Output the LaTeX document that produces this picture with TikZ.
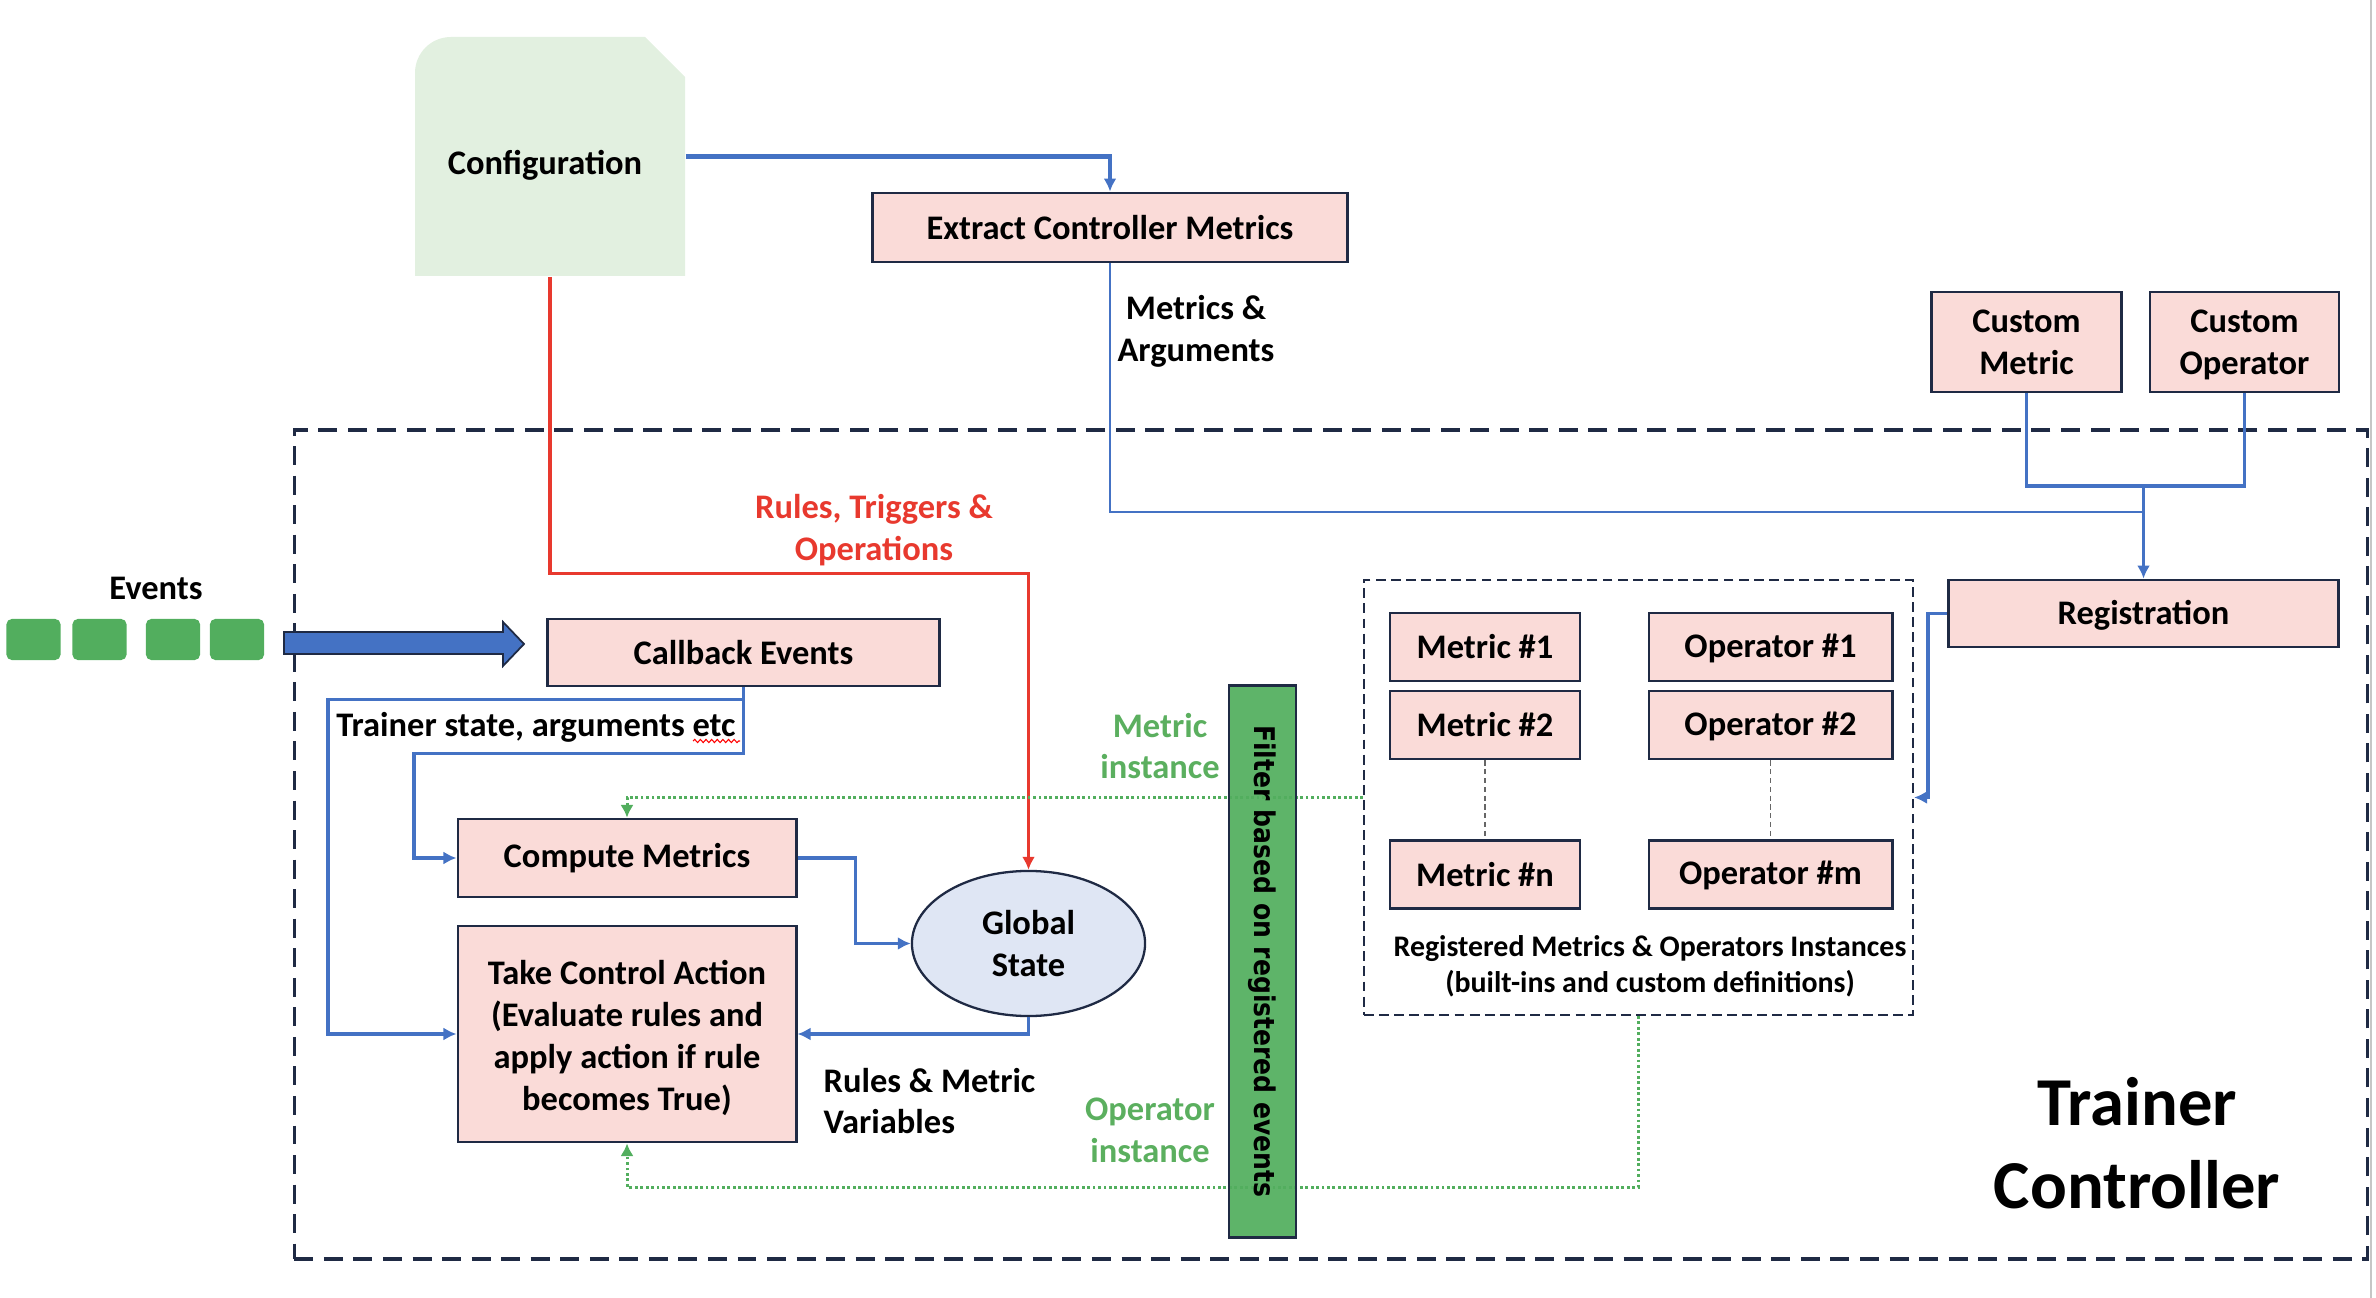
\documentclass[tikz,border=0pt]{standalone}
\usepackage{fontspec}
\setmainfont{Carlito}
\newfontfamily\barfont{DejaVu Sans}[FakeStretch=0.88]
\usetikzlibrary{arrows.meta,decorations.pathmorphing,shapes.geometric}
\definecolor{navy}{HTML}{1F2A44}
\definecolor{pinkf}{HTML}{FADBD8}
\definecolor{bluel}{HTML}{4472C4}
\definecolor{redl}{HTML}{E8392E}
\definecolor{greenl}{HTML}{52AE5E}
\definecolor{greent}{HTML}{5BAF5F}
\definecolor{cfgfill}{HTML}{E2F0E0}
\definecolor{gsfill}{HTML}{DFE6F4}
\begin{document}
\begin{tikzpicture}[x=0.01cm,y=-0.01cm,
 box/.style={draw=navy,fill=pinkf,line width=0.8pt,inner sep=0pt,align=center,font=\bfseries\fontsize{9.8}{11.9}\selectfont},
 lbl/.style={inner sep=0pt,align=center,font=\bfseries\fontsize{9.8}{11.9}\selectfont},
 bl/.style={draw=bluel,line width=1pt},
 arr/.style={-{Latex[length=3.7pt,width=3.7pt]}},
 garr/.style={-{Latex[length=3.6pt,width=3.8pt]}},
 gdot/.style={draw=greenl,line width=0.85pt,dash pattern=on 0.8pt off 0.75pt},
 evsq/.style={fill=greenl,rounded corners=1.5pt,minimum width=0.54cm,minimum height=0.41cm,inner sep=0pt},
 smallbox/.style={box,minimum height=0.68cm},
]
\useasboundingbox (0,0) rectangle (2376,1298);
\draw[gray!45,line width=0.4pt] (2371,0) -- (2371,1298);

% outer dashed Trainer Controller box
\node[draw=navy,line width=1pt,dash pattern=on 5.4pt off 3pt,minimum width=20.72cm,minimum height=8.29cm,inner sep=0pt] (tc) at (1331,844.5) {};
\node[lbl,font=\bfseries\fontsize{19.5}{23.7}\selectfont] (tctxt) at (2137,1143) {Trainer\\Controller};

% configuration
\fill[cfgfill] (415,276) -- (415,73) .. controls (415,53) and (431,37) .. (451,37) -- (645,37) -- (685,77) -- (685,276) -- cycle;
\node[minimum width=2.7cm,minimum height=2.39cm,inner sep=0pt] (config) at (550,156.5) {};
\node[lbl] (cfgtxt) at (545,165) {Configuration};

% top boxes
\node[box,minimum width=4.74cm,minimum height=0.69cm] (extract) at (1110,227.5) {Extract Controller Metrics};
\node[box,minimum width=1.90cm,minimum height=1.00cm] (custmet) at (2026.5,342) {Custom\\Metric};
\node[box,minimum width=1.89cm,minimum height=1.00cm] (custop) at (2244.5,342) {};
\node[lbl] (custoptxt) at ([yshift=-0.8pt]custop.center) {Custom\\Operator};
\node[box,minimum width=3.90cm,minimum height=0.67cm,text height=7.6pt,text depth=1.4pt] (reg) at (2143.5,613.5) {Registration};

\node[lbl] (mtxt) at (1196,331) {Metrics \&\\Arguments};
\node[lbl,text=redl] (rtxt) at (874,530) {Rules, Triggers \&\\Operations};

% events
\node[lbl] (evtxt) at (156,588) {Events};
\node[evsq] (e1) at (33.5,639.5) {};
\node[evsq] (e2) at (99.5,639.5) {};
\node[evsq] (e3) at (173,639.5) {};
\node[evsq] (e4) at (237,639.5) {};
\draw[fill=bluel,draw=navy,line width=0.5pt] (284,632) -- (503,632) -- (503,622) -- (524,644) -- (503,666) -- (503,654) -- (284,654) -- cycle;

% left boxes
\node[box,minimum width=3.91cm,minimum height=0.67cm] (callback) at (743.5,652.5) {Callback Events};
\node[box,minimum width=3.38cm,minimum height=0.78cm] (compute) at (627,858) {Compute Metrics};
\node[box,minimum width=3.38cm,minimum height=2.16cm] (action) at (627,1034) {};
\node[lbl] (actiontxt) at ([yshift=-1.2pt]action.center) {Take Control Action\\(Evaluate rules and\\apply action if rule\\becomes True)};
\node[draw=navy,fill=gsfill,line width=0.65pt,ellipse,minimum width=2.33cm,minimum height=1.45cm,inner sep=0pt,align=center,font=\bfseries\fontsize{9.8}{11.9}\selectfont] (global) at (1028.5,943.5) {Global\\State};

\node[lbl] (tstxt) at (536,727) {Trainer state, arguments etc};
\draw[red,line width=0.3pt,decorate,decoration={snake,amplitude=0.45pt,segment length=1.6pt}] (693,741) -- (740,741);
\node[lbl,align=left,anchor=west] (rmtxt) at (823,1101) {Rules \& Metric\\Variables};
\node[lbl,text=greent] (mitxt) at (1160,746) {Metric\\instance};
\node[lbl,text=greent] (oitxt) at (1150,1130) {Operator\\instance};

% inner registry box
\node[draw=navy,line width=0.5pt,dash pattern=on 2.8pt off 1.5pt,minimum width=5.49cm,minimum height=4.35cm,inner sep=0pt] (inner) at (1638.5,797.5) {};
\node[smallbox,minimum width=1.90cm] (m1) at (1485,647) {Metric \#1};
\node[smallbox,minimum width=1.90cm] (m2) at (1485,725) {Metric \#2};
\node[smallbox,minimum width=1.90cm] (mn) at (1485,874.5) {Metric \#n};
\node[smallbox,minimum width=2.43cm,text height=7.6pt,text depth=1.9pt] (o1) at (1770.5,647) {Operator \#1};
\node[smallbox,minimum width=2.43cm,text height=7.6pt,text depth=1.9pt] (o2) at (1770.5,725) {Operator \#2};
\node[smallbox,minimum width=2.43cm,text height=7.6pt,text depth=1.9pt] (om) at (1770.5,874.5) {Operator \#m};
\draw[gray!80!black,line width=0.35pt,dash pattern=on 1.5pt off 1pt] (m2.south) -- (mn.north);
\draw[gray!80!black,line width=0.35pt,dash pattern=on 1.5pt off 1pt] (o2.south) -- (om.north);
\node[lbl,font=\bfseries\fontsize{8.5}{10.2}\selectfont] (regtxt) at (1650,966) {Registered Metrics \& Operators Instances\\(built-ins and custom definitions)};

% connectors
\coordinate (junc) at (2143.5,512);
\coordinate (cj) at (2143.5,486);
\draw[bl,line width=1.15pt,arr] (config.east) -| (extract.north);
\draw[bl,line width=0.8pt,arr] (extract.south) |- (junc) -- (reg.north);
\draw[bl,line width=0.9pt] (custmet.south) |- (cj) -| (custop.south);
\draw[bl,line width=0.9pt] (cj) -- (junc);
\draw[bl,arr] (reg.west) -- ++(-19,0) |- (inner.east);
\draw[draw=redl,line width=0.95pt,arr] (config.south) -- ++(0,297) -| (global.north);
\coordinate (la) at (328,1034);
\coordinate (lb) at (414,858);
\draw[bl,arr] (callback.south) -- ++(0,12) -| (la) -- (action.west);
\draw[bl,arr] (callback.south) -- ++(0,66) -| (lb) -- (compute.west);
\draw[bl,arr] (compute.east) -- ++(58,0) |- (global.west);
\draw[bl,arr] (global.south) |- (action.east);
\draw[gdot,garr] (inner.west) -| (compute.north);
\draw[gdot,garr] (inner.south) -- ++(0,171) -| (action.south);

% filter bar
\node[draw=navy,fill=greenl,fill opacity=0.93,line width=0.8pt,minimum width=0.67cm,minimum height=5.51cm,inner sep=0pt] (bar) at (1262.5,961.5) {};
\node[rotate=-90,inner sep=0pt,font=\barfont\bfseries\fontsize{8.1}{9.5}\selectfont] (bartxt) at (bar.center) {Filter based on registered events};
\end{tikzpicture}
\end{document}
